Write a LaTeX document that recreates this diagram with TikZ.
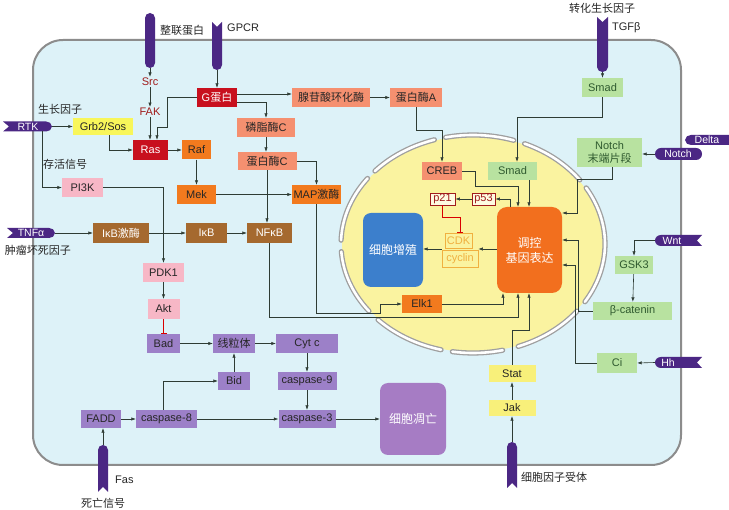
\documentclass[tikz,border=0pt]{standalone}
\usepackage{fontspec}
\setmainfont{Liberation Sans}
\newfontfamily\cjk{Noto Sans CJK SC}
\usetikzlibrary{arrows.meta}
\definecolor{cellbg}{HTML}{DDF2F8}
\definecolor{cellbd}{HTML}{8C8C8C}
\definecolor{nucbg}{HTML}{FAF3A0}
\definecolor{recp}{HTML}{4B2784}
\definecolor{redbx}{HTML}{C8101E}
\definecolor{salm}{HTML}{F59070}
\definecolor{orng}{HTML}{F27A1E}
\definecolor{brwn}{HTML}{A5692F}
\definecolor{pnk}{HTML}{F7B7C6}
\definecolor{purp}{HTML}{9C80C8}
\definecolor{grn}{HTML}{B8E2A0}
\definecolor{grntx}{HTML}{2F5A2F}
\definecolor{ylw}{HTML}{F8F65A}
\definecolor{lylw}{HTML}{F8F07A}
\definecolor{ln}{HTML}{2E3C34}
\definecolor{dred}{HTML}{A01C1C}
\definecolor{cdkc}{HTML}{F0B040}
\definecolor{regc}{HTML}{F26F1E}
\definecolor{proc}{HTML}{3C7FCC}
\definecolor{apoc}{HTML}{A67CC4}
\begin{document}
\begin{tikzpicture}[x=1pt,y=-1pt,
  box/.style={inner sep=0pt, font=\fontsize{11}{12.5}\selectfont, text=black!85, align=center},
  lbl/.style={inner sep=1pt, font=\fontsize{11}{12.5}\selectfont, text=black!85},
  rtxt/.style={inner sep=0pt, font=\fontsize{10.5}{12}\selectfont, text=white},
  ar/.style={draw=ln, line width=0.6pt, -{Latex[length=4.5pt,width=3.4pt]}},
  inh/.style={draw=red!85!black, line width=0.9pt, -{Bar[width=6pt]}},
  mem/.style={draw=gray!75, line width=1.3pt, double=white, double distance=2.6pt, line cap=round},
  recep/.style={fill=recp}]
\fill[white] (0,0) rectangle (729,510);
\useasboundingbox (0,0) rectangle (729,510);
% cell
\draw[cellbd, line width=2pt, fill=cellbg, rounded corners=30pt] (33,40) rectangle (681,465);
% nucleus
\fill[nucbg] (473,244) ellipse [x radius=131pt, y radius=108pt];
\foreach \a/\b in {-32/31, 36/67, 72/102, 107/138, 143/178, 184/218, 224/256, 261/283, 290/322}{
  \draw[mem] plot[domain=\a:\b, samples=30] ({473+132*cos(\x)},{244-109*sin(\x)});
}
% receptors
\fill[recep, rounded corners=5pt] (145,13) rectangle (155,68);
\coordinate (intg) at (150,68);
\fill[recep] (212,22) -- (217,27) -- (222,22) -- (222,65) to[out=-90,in=0] (217,70) to[out=180,in=-90] (212,65) -- cycle;
\coordinate (gpcr) at (217,70);
\fill[recep] (597,17) -- (602.5,22) -- (608,17) -- (608,67) to[out=-90,in=0] (602.5,72) to[out=180,in=-90] (597,67) -- cycle;
\coordinate (tgf) at (602.5,72);
\fill[recep] (3,121.5) -- (9,126.5) -- (3,131.5) -- (46,131.5) to[out=0,in=-90] (52,126.5) to[out=90,in=0] (46,121.5) -- cycle;
\node[rtxt] (rtkt) at (28,126.5) {RTK};
\coordinate (rtk) at (52,126.5);
\coordinate (rtkb) at (42,131.5);
\fill[recep] (7,228) -- (13,233) -- (7,238) -- (49,238) to[out=0,in=-90] (55,233) to[out=90,in=0] (49,228) -- cycle;
\node[rtxt] (tnft) at (31,233) {TNFα};
\coordinate (tnf) at (55,233);
\fill[recep] (691,135) -- (729,135) -- (729,145) -- (691,145) to[out=180,in=-90] (685,140) to[out=90,in=180] (691,135);
\node[rtxt] (deltat) at (707,140) {Delta};
\fill[recep] (661,148) -- (696,148) to[out=0,in=90] (702,154) to[out=-90,in=0] (696,160) -- (661,160) to[out=180,in=-90] (655,154) to[out=90,in=180] (661,148);
\node[rtxt] (notcht) at (678,154) {Notch};
\coordinate (notch) at (655,154);
\fill[recep] (661,235) -- (702,235) -- (697,240.5) -- (702,246) -- (661,246) to[out=180,in=-90] (655,240.5) to[out=90,in=180] (661,235);
\node[rtxt] (wntt) at (672,240.5) {Wnt};
\coordinate (wnt) at (655,240.5);
\fill[recep] (661,357) -- (702,357) -- (697,362.5) -- (702,368) -- (661,368) to[out=180,in=-90] (655,362.5) to[out=90,in=180] (661,357);
\node[rtxt] (hht) at (668,362.5) {Hh};
\coordinate (hh) at (655,362.5);
\fill[recep] (98,492) -- (103,487) -- (108,492) -- (108,450) to[out=90,in=0] (103,445) to[out=180,in=90] (98,450) -- cycle;
\coordinate (fas) at (103,445);
\fill[recep] (507,488) -- (512,483) -- (517,488) -- (517,447) to[out=90,in=0] (512,442) to[out=180,in=90] (507,447) -- cycle;
\coordinate (cyto) at (512,442);
% labels
\node[lbl,anchor=west] (l1) at (159,30) {\cjk 整联蛋白};
\node[lbl,anchor=west] (l2) at (226,28) {GPCR};
\node[lbl] (l3) at (602,8) {\cjk 转化生长因子};
\node[lbl,anchor=west] (l4) at (611,28) {TGFβ};
\node[lbl] (l5) at (60,109) {\cjk 生长因子};
\node[lbl,anchor=west] (l6) at (42,164) {\cjk 存活信号};
\node[lbl] (l7) at (38,250) {\cjk 肿瘤坏死因子};
\node[lbl] (l8) at (103,503) {\cjk 死亡信号};
\node[lbl,anchor=west] (l9) at (114,480) {Fas};
\node[lbl,anchor=west] (l10) at (520,477) {\cjk 细胞因子受体};
\node[box,text=dred,inner sep=1pt] (src) at (150,82) {Src};
\node[box,text=dred,inner sep=1pt] (fak) at (150,112) {FAK};
% boxes
\node[box,fill=ylw,minimum width=60pt,minimum height=17pt] (grb) at (103,126.5) {Grb2/Sos};
\node[box,fill=redbx,text=white,minimum width=35pt,minimum height=20pt] (ras) at (150.5,150) {Ras};
\node[box,fill=orng,minimum width=29pt,minimum height=19pt] (raf) at (196.5,150) {Raf};
\node[box,fill=redbx,text=white,minimum width=40pt,minimum height=19pt] (gprot) at (217,97.5) {G{\cjk 蛋白}};
\node[box,fill=salm,minimum width=78pt,minimum height=19pt] (ac) at (331,97.5) {\cjk 腺苷酸环化酶};
\node[box,fill=salm,minimum width=52pt,minimum height=19pt] (pka) at (416,97.5) {{\cjk 蛋白酶}A};
\node[box,fill=salm,minimum width=58pt,minimum height=19pt] (plc) at (266,127.5) {{\cjk 磷脂酶}C};
\node[box,fill=salm,minimum width=59pt,minimum height=18pt] (pkc) at (267,161) {{\cjk 蛋白酶}C};
\node[box,fill=orng,minimum width=39pt,minimum height=19pt] (mek) at (196.5,194.5) {Mek};
\node[box,fill=orng,minimum width=49pt,minimum height=19pt] (map) at (316.5,194.5) {MAP{\cjk 激酶}};
\node[box,fill=pnk,minimum width=41pt,minimum height=19pt] (pi3k) at (82.5,187.5) {PI3K};
\node[box,fill=brwn,text=white,minimum width=56pt,minimum height=20pt] (ikk) at (121,233) {IκB{\cjk 激酶}};
\node[box,fill=brwn,text=white,minimum width=41pt,minimum height=20pt] (ikb) at (206.5,233) {IκB};
\node[box,fill=brwn,text=white,minimum width=45pt,minimum height=20pt] (nfkb) at (269.5,233) {NFκB};
\node[box,fill=pnk,minimum width=41pt,minimum height=19pt] (pdk1) at (163.5,272.5) {PDK1};
\node[box,fill=pnk,minimum width=32pt,minimum height=20pt] (akt) at (163.5,309) {Akt};
\node[box,fill=purp,minimum width=33pt,minimum height=19pt] (bad) at (163.5,343.5) {Bad};
\node[box,fill=purp,minimum width=42pt,minimum height=19pt] (mito) at (234,343.5) {\cjk 线粒体};
\node[box,fill=purp,minimum width=62pt,minimum height=19pt] (cytc) at (307,343.5) {Cyt c};
\node[box,fill=purp,minimum width=32pt,minimum height=18pt] (bid) at (234,381) {Bid};
\node[box,fill=purp,minimum width=59pt,minimum height=18pt] (casp9) at (307,381) {caspase-9};
\node[box,fill=purp,minimum width=40pt,minimum height=18pt] (fadd) at (101,419) {FADD};
\node[box,fill=purp,minimum width=61pt,minimum height=18pt] (casp8) at (166.5,419) {caspase-8};
\node[box,fill=purp,minimum width=57pt,minimum height=18pt] (casp3) at (307,419) {caspase-3};
\node[box,fill=apoc,text=white,rounded corners=8pt,minimum width=66pt,minimum height=72pt,font=\fontsize{12}{13}\selectfont] (apop) at (413,419) {\cjk 细胞凋亡};
\node[box,fill=salm,minimum width=40pt,minimum height=18pt] (creb) at (442,171) {CREB};
\node[box,fill=grn,text=grntx,minimum width=49pt,minimum height=18pt] (smad2) at (512.5,171) {Smad};
\node[box,draw=dred,line width=0.9pt,fill=white!70!nucbg,text=dred,minimum width=25pt,minimum height=12pt] (p21) at (442.5,199) {p21};
\node[box,draw=dred,line width=0.9pt,fill=white!70!nucbg,text=dred,minimum width=23pt,minimum height=12pt] (p53) at (483.5,199) {p53};
\node[box,fill=regc,text=white,rounded corners=10pt,minimum width=65pt,minimum height=86pt,font=\fontsize{12}{15}\selectfont] (reg) at (529.5,250) {\cjk 调控\\\cjk 基因表达};
\node[box,fill=proc,text=white,rounded corners=8pt,minimum width=60pt,minimum height=74pt,font=\fontsize{12}{13}\selectfont] (prolif) at (393,250) {\cjk 细胞增殖};
\node[box,draw=cdkc,line width=0.8pt,text=cdkc,minimum width=27pt,minimum height=15pt] (cdk) at (458.5,241) {CDK};
\node[box,draw=cdkc,line width=0.8pt,text=cdkc,minimum width=36pt,minimum height=17pt] (cyclin) at (460,258.5) {cyclin};
\node[box,fill=orng,minimum width=40pt,minimum height=18pt] (elk1) at (422,304) {Elk1};
\node[box,fill=grn,text=grntx,minimum width=41pt,minimum height=19pt] (smad1) at (602.5,87.5) {Smad};
\node[box,fill=grn,text=grntx,minimum width=65pt,minimum height=29pt,font=\fontsize{11}{13.5}\selectfont] (notchf) at (609.5,152.5) {Notch\\{\cjk 末端片段}};
\node[box,fill=grn,text=grntx,minimum width=38pt,minimum height=18pt] (gsk3) at (634,265) {GSK3};
\node[box,fill=grn,text=grntx,minimum width=79pt,minimum height=18pt] (bcat) at (632.5,311) {β-catenin};
\node[box,fill=grn,text=grntx,minimum width=40pt,minimum height=20pt] (ci) at (617,363) {Ci};
\node[box,fill=lylw,minimum width=47pt,minimum height=17pt] (stat) at (512,373.5) {Stat};
\node[box,fill=lylw,minimum width=47pt,minimum height=16pt] (jak) at (512,408) {Jak};
% connectors
\draw[ar] (intg) -- (src.north);
\draw[ar] (src.south) -- (fak.north);
\draw[ar] (fak.south) -- (fak.south |- ras.north);
\draw[ar] (gpcr) -- (gprot.north);
\draw[ar] (gprot.west) -- (167,97.5) -- (167,127) -- (157,127) -- (157,0 |- ras.north);
\draw[ar] (rtk) -- (grb.west);
\draw[ar] (109,0 |- grb.south) -- (109,150) -- (ras.west);
\draw[ar] (ras.east) -- (raf.west);
\draw[ar] (rtkb) -- (42,187.5) -- (pi3k.west);
\draw[ar] ([yshift=3.5pt]gprot.east) -- ([yshift=3.5pt]gprot.east -| ac.west);
\draw[ar] ([yshift=-4.5pt]gprot.east) -| (plc.north);
\draw[ar] (ac) -- (pka);
\draw[ar] (pka.south) -- (416,130) -| (creb.north);
\draw[ar] (plc.south) -- (plc.south |- pkc.north);
\draw[ar] (pkc.east) -| (map.north);
\draw[ar] (pkc.south) -- (pkc.south |- nfkb.north);
\draw[ar] (raf.south) -- (raf.south |- mek.north);
\draw[ar] (mek) -- (map);
\draw[ar] (pi3k.east) -| (pdk1.north);
\draw[ar] (tnf) -- (ikk.west);
\draw[ar] (ikk) -- (ikb);
\draw[ar] (ikb) -- (nfkb);
\draw[ar] (pdk1) -- (akt);
\draw[inh] (akt) -- (bad);
\draw[ar] (bad) -- (mito);
\draw[ar] (mito) -- (cytc);
\draw[ar] (cytc) -- (casp9);
\draw[ar] (casp9) -- (casp3);
\draw[ar] (bid) -- (mito);
\draw[ar] (fas) -- (fas |- fadd.south);
\draw[ar] (fadd) -- (casp8);
\draw[ar] (163,0 |- casp8.north) |- (bid.west);
\draw[ar] (casp8) -- (casp3);
\draw[ar] (casp3) -- (apop);
\draw[ar] (map.south) -- (316.5,313) -- (380,313) -- (380,0 |- elk1.west) -- (elk1.west);
\draw[ar] (nfkb.south) -- (269.5,317) -- (518,317) -- (518,0 |- reg.south);
\draw[ar] (elk1.east) -- (503,0 |- elk1.east) -- (503,0 |- reg.south);
\draw[ar] (stat.north) -- (512,330) -- (529,330) -- (529,0 |- reg.south);
\draw[ar] (jak) -- (stat);
\draw[ar] (cyto) -- (jak.south);
\draw[ar] (tgf) -- (smad1.north);
\draw[ar] (smad1.south) -- (602.5,117) -- (517,117) -- (517,0 |- smad2.north);
\draw[ar] (529,0 |- smad2.south) -- (529,0 |- reg.north);
\draw[ar] (creb.east) -- (475,171) -- (475,186) -- (518,186) -- (518,0 |- reg.north);
\draw[ar] (510,0 |- reg.north) -- (510,199) -- (p53.east);
\draw[ar] (p53) -- (p21);
\draw[inh] (p21.south) -- (442.5,217) -- (460,217) -- (460,0 |- cdk.north);
\draw[ar] (reg.west |- 0,249) -- (cyclin.east |- 0,249);
\draw[ar] (cyclin.west |- 0,249) -- (prolif.east |- 0,249);
\draw[ar] (612,0 |- notchf.south) -- (612,179) -- (577,179) -- (577,213) -- (reg.east |- 0,213);
\draw[ar] (notch) -- (notchf.east |- notch);
\draw[ar] (wnt) -| (gsk3.north);
\draw[ar] (gsk3) -- (bcat);
\draw[ar] (bcat.west) -- (578,311) -- (578,240) -- (reg.east |- 0,240);
\draw[ar] (hh) -- (ci.east);
\draw[ar] (ci.west) -- (575,363) -- (575,265) -- (reg.east |- 0,265);
\end{tikzpicture}
\end{document}
